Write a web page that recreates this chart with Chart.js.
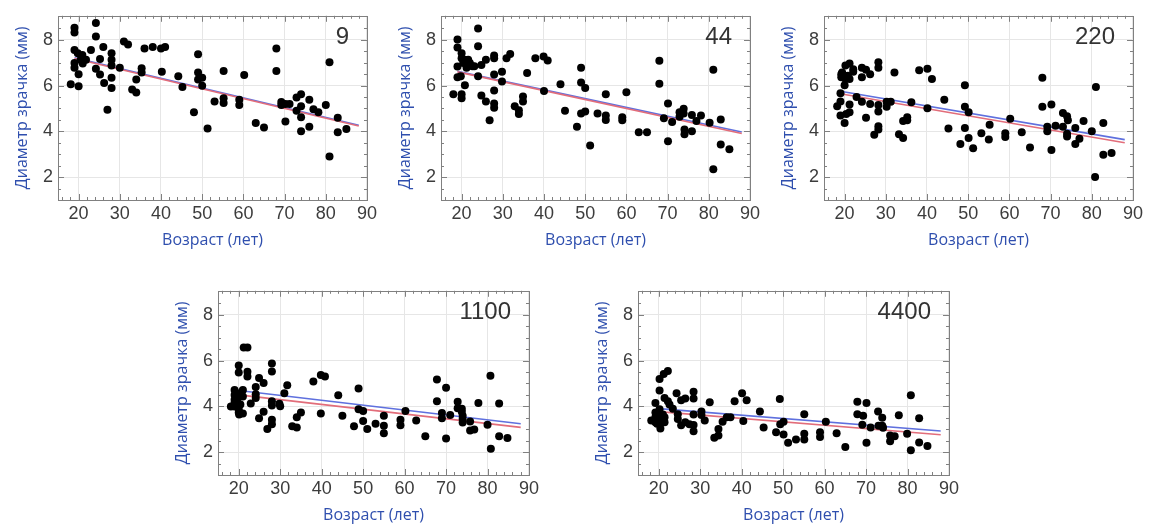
<!DOCTYPE html>
<html>
<head>
<meta charset="utf-8">
<script src="https://cdn.jsdelivr.net/npm/chart.js@4.4.1/dist/chart.umd.min.js"></script>
<style>
    html, body { margin: 0; padding: 0; background: #fff; overflow: hidden; }
    #wrap { position: relative; width: 1158px; height: 527px; }
    canvas { position: absolute; }
</style>
</head>
<body>
<div id="wrap">
    <canvas id="p9" width="380" height="252" style="left:0px;top:0px"></canvas>
    <canvas id="p44" width="380" height="252" style="left:383px;top:0px"></canvas>
    <canvas id="p220" width="380" height="252" style="left:766px;top:0px"></canvas>
    <canvas id="p1100" width="382" height="252" style="left:160px;top:275px"></canvas>
    <canvas id="p4400" width="382" height="252" style="left:580px;top:275px"></canvas>
</div>
<script>
// Axis ticks and labels
const xTicks = [20, 30, 40, 50, 60, 70, 80, 90];
const yTicks = [2, 4, 6, 8];
const xTitle = "Возраст (лет)";
const yTitle = "Диаметр зрачка (мм)";

// Panel "9"
const ages9 = [18.1,19,19,19,19,19,19.8,20,20,20.5,20.9,21,21.8,23,24.2,24.2,24.2,25.2,25.2,26,26.2,27,28,28,28,28,28,30,31,32,33,34,34,35.3,35.3,36,38,40,41,40.2,44.2,45.2,48,49,49,49,50,50,51.3,53,55.2,55.2,55.2,59,59,60.2,63,65,68,68,69.2,69.2,70.2,70.2,71.2,72.9,72.9,74,74,74,74,76,76,77,78.2,80,80.9,80.9,82.9,82.9,85];
const pupil9 = [6.06,8.53,8.32,7.55,6.99,6.78,7.41,6.5,5.97,7.13,7.34,6.97,7.13,7.55,8.74,8.14,6.74,7.16,6.48,7.69,6.11,4.94,7.41,7.13,6.88,6.34,5.9,6.78,7.93,7.8,5.83,5.7,6.27,6.76,6.57,7.62,7.69,7.62,7.69,6.6,6.41,5.94,4.83,7.37,6.57,6.27,6.34,5.99,4.13,5.31,6.64,5.45,5.24,5.38,5.15,6.46,4.36,4.17,7.62,6.64,5.28,5.15,4.43,5.2,5.2,5.48,4.9,5.62,5.1,4.62,4.01,5.38,4.2,4.97,4.83,5.15,7.02,2.9,4.59,3.96,4.1];
const fitX9 = [19, 88];
const blue9 = [7.22, 4.27];
const red9 = [7.18, 4.23];

// Panel "44"
const ages44 = [18,19,19,19,19,19.8,20,20,20,20,20.4,20.8,20.8,21.2,21.6,22,22.6,23.1,24,24,24,24.8,24.8,25.9,25.9,26.8,27.9,27.9,27.9,27.9,27.9,27.9,29.8,29.8,30.9,31.8,32.9,33.9,33.9,34.9,34.9,35.9,37.9,39.9,40.9,40,44,45.1,48,49,49,49,50,50,51.2,53,55,55,55,59,59,60,63,65,68,68,69.1,70.1,70.1,71.1,72.9,72.9,73.9,73.9,74.1,74.1,75.9,75.9,77,78.1,80.2,81.1,81.1,82.9,82.9,85];
const pupil44 = [5.62,8.01,7.66,6.83,6.36,6.41,7.41,7.2,5.62,5.45,6.99,7.13,6.01,6.78,7.13,6.99,6.85,6.85,8.5,7.72,6.41,6.9,5.57,7.13,5.31,4.48,7.31,7.2,6.48,5.78,5.22,5.03,6.6,6.18,7.2,7.38,5.1,4.92,4.76,5.52,5.31,6.55,7.2,7.27,7.1,5.76,6.06,4.9,4.2,6.78,6.13,4.78,5.9,4.87,3.38,4.78,5.62,4.69,4.5,4.62,4.48,5.71,3.96,3.96,7.09,6.08,4.57,5.22,3.57,4.41,4.83,4.64,4.99,4.78,4.08,3.87,4.71,4.01,4.45,4.69,4.38,6.69,2.34,4.52,3.43,3.22];
const fitX44 = [19, 88];
const blue44 = [6.62, 3.97];
const red44 = [6.60, 3.91];

// Panel "220"
const ages220 = [18.2,19,19,19,19.2,19.2,19.4,20,20,20.2,20.2,20.4,20.8,21.2,21.2,21.2,21.2,22.1,22.1,22.9,24.2,24.2,24.2,25.2,25.2,26.2,26.2,27.2,28.2,28.2,28.2,28.2,28.2,28.2,30.2,30.2,31.2,32.1,33.2,34.2,34.2,35.2,35.2,36.2,38.1,40.1,40.1,41.2,44.2,45.2,48.1,49.2,49.2,49.2,50.1,50.1,51.2,53.2,55,55.2,59,59,60.2,63,65,68,68,69.2,69.2,70.2,70.2,71.2,73,73,74,74,74,74.2,76,76,77,78,80,81,80.8,82.8,82.8,84.8];
const pupil220 = [5.1,5.31,4.69,5.66,6.5,6.36,6.57,6.01,4.36,6.88,6.29,4.76,6.43,6.97,6.29,5.17,4.83,6.71,6.6,5.5,6.78,6.36,5.29,6.69,4.59,6.5,5.2,3.85,7.02,6.78,5.15,4.87,4.22,4.08,5.29,5.08,5.29,6.57,3.87,3.71,4.45,4.62,4.48,5.27,6.67,6.74,5.01,6.29,5.38,4.13,3.45,6.01,5.08,4.15,4.83,3.71,3.26,3.92,3.64,4.29,3.92,3.75,4.55,3.96,3.29,6.34,5.08,4.01,4.2,5.17,3.19,4.24,4.8,4.2,4.66,3.89,3.78,4.48,4.15,3.45,3.68,4.45,4.01,5.94,2,4.36,2.98,3.05];
const fitX220 = [19.7, 88];
const blue220 = [5.73, 3.64];
const red220 = [5.62, 3.50];

// Panel "1100"
const ages1100 = [18.1,19,19,19,19,19,19.6,19.8,20,20,20,20,20.1,20.4,21,21,21,21.2,22.1,22.1,22.1,22.9,24.1,24.1,24.1,24.9,24.9,26,26,26.9,28,28,28,28,28,28,29.8,30,31,31.7,32.9,34,34,35,38,39.8,40.8,39.8,44,45,47.8,48.9,48.9,50,50,51,53,55,55,55,59,59,60.2,62.8,65,67.8,67.8,69,69,70,70,71,72.8,72.8,73.8,73.8,74,74,74,75.8,75.8,76.8,77.8,80,80.7,80.8,82.8,82.8,84.8];
const pupil1100 = [3.99,4.71,4.5,4.29,4.15,3.99,4.57,4.36,5.79,5.48,3.87,3.73,3.64,4.08,4.71,4.43,3.69,6.57,6.57,5.51,5.31,4.13,4.85,4.53,4.36,5.24,3.48,5.02,3.76,3.01,5.87,5.52,4.22,4.04,3.41,3.22,4.11,4.01,4.57,4.92,3.13,3.08,3.52,3.73,5.09,5.37,5.3,3.69,4.48,3.59,3.13,4.78,3.87,3.8,3.36,3.01,3.24,3.59,3.15,2.83,3.41,3.17,3.8,3.38,2.69,5.17,4.22,3.71,3.48,4.81,2.59,3.62,4.2,3.92,3.9,3.76,3.59,3.45,3.29,3.34,2.94,2.99,4.15,3.2,5.34,2.15,4.13,2.69,2.62];
const fitX1100 = [20, 88];
const blue1100 = [4.69, 3.24];
const red1100 = [4.50, 3.08];

// Panel "4400"
const ages4400 = [18.2,19.2,19.2,19.2,19.2,19.6,20.2,20.2,20.2,20.2,20.4,20.4,21,21,21.4,21.4,21.2,21.4,22.2,22.2,22.6,23.4,24.3,24.6,24.6,25.4,25.4,26.4,26.4,27.4,28.4,28.4,28.4,28.4,28.4,30.3,30.3,31.1,32.3,33.4,34.4,34.4,35.4,36.4,37.3,38.3,40.1,40.4,41.2,44.4,45.3,48.3,49.2,49.3,50.1,50.1,51.2,53.1,55.1,55.1,55.1,58.9,58.9,60.3,62.9,65,67.9,67.9,69.3,69.1,70.1,70.1,71.1,72.9,73,73.9,73.9,74.1,75.8,75.8,76.9,77.9,79.9,80.8,80.8,82.8,82.8,84.8];
const pupil4400 = [3.38,4.15,3.73,3.52,3.31,3.24,5.2,4.69,3.87,3.66,3.03,3.41,3.64,3.31,3.52,3.31,5.41,4.36,5.55,4.22,4.08,3.9,4.57,3.66,3.45,4.27,3.17,4.34,3.31,3.22,4.64,4.34,3.64,2.91,3.19,3.78,3.62,3.38,4.18,2.63,3.01,2.73,3.33,3.52,3.52,4.22,4.57,3.36,4.27,3.78,3.08,2.87,4.32,3.22,3.33,2.77,2.41,2.55,3.66,2.8,2.55,2.87,2.66,3.33,2.83,2.22,4.2,3.66,3.59,3.2,4.15,2.41,3.08,3.78,3.15,3.5,3.15,3.06,2.73,2.48,2.69,3.61,2.8,4.48,2.08,3.48,2.42,2.27];
const fitX4400 = [20, 88];
const blue4400 = [3.90, 2.92];
const red4400 = [3.77, 2.76];


// 1. Frame with inward ticks + panel number
const framePlugin = {
    id: 'frame',
    afterDraw(chart, args, opts) {
        const {ctx, chartArea: a, scales: {x, y}} = chart;
        ctx.save();
        ctx.strokeStyle = '#808080';
        ctx.lineWidth = 1;
        ctx.beginPath();
        // minor/major ticks on x (every 2 years)
        for (let v = 16; v < 90; v += 2) {
            const px = Math.round(x.getPixelForValue(v)) + 0.5;
            const len = v % 10 === 0 ? 6 : 3;
            ctx.moveTo(px, a.bottom); ctx.lineTo(px, a.bottom - len);
            ctx.moveTo(px, a.top); ctx.lineTo(px, a.top + len);
        }
        // ticks on y (every 0.5 mm)
        for (let v = 1.5; v < 9; v += 0.5) {
            const py = Math.round(y.getPixelForValue(v)) + 0.5;
            const len = v % 2 === 0 ? 6 : 3;
            ctx.moveTo(a.left, py); ctx.lineTo(a.left + len, py);
            ctx.moveTo(a.right, py); ctx.lineTo(a.right - len, py);
        }
        ctx.stroke();
        ctx.strokeRect(Math.round(a.left) + 0.5, Math.round(a.top) + 0.5,
                       Math.round(a.right - a.left), Math.round(a.bottom - a.top));
        // panel number
        ctx.font = '24px "Liberation Sans", Arial, sans-serif';
        ctx.fillStyle = '#333333';
        ctx.textAlign = 'right';
        ctx.textBaseline = 'alphabetic';
        ctx.fillText(opts.text, a.right - 18, a.top + 28);
        ctx.restore();
    }
};

// 2. Build one panel
function makePanel(id, label, ages, pupil, fitX, blueY, redY, padTop) {
    const points = ages.map((a, i) => ({x: a, y: pupil[i]}));
    const blueLine = fitX.map((a, i) => ({x: a, y: blueY[i]}));
    const redLine = fitX.map((a, i) => ({x: a, y: redY[i]}));

    const tickFont = {family: '"Liberation Sans", Arial, sans-serif', size: 18};
    const titleFont = {family: '"Open Sans", "Noto Sans", sans-serif', size: 16};

    new Chart(document.getElementById(id), {
        type: 'scatter',
        data: {
            datasets: [{
                data: points,
                backgroundColor: '#000000',
                borderWidth: 0,
                pointRadius: 4,
                order: 0
            }, {
                data: redLine,
                showLine: true,
                borderColor: '#e26d7a',
                borderWidth: 1.6,
                pointRadius: 0,
                order: 1
            }, {
                data: blueLine,
                showLine: true,
                borderColor: '#5f70de',
                borderWidth: 1.6,
                pointRadius: 0,
                order: 2
            }]
        },
        options: {
            responsive: false,
            animation: false,
            layout: {padding: {top: padTop, right: 10, left: 0, bottom: 0}},
            plugins: {
                legend: {display: false},
                tooltip: {enabled: false},
                frame: {text: label}
            },
            scales: {
                x: {
                    type: 'linear',
                    min: 15,
                    max: 90,
                    afterBuildTicks: s => { s.ticks = xTicks.map(v => ({value: v})); },
                    afterFit: s => { s.height = 52; },
                    grid: {color: '#e6e6e6', drawTicks: false},
                    border: {display: false},
                    ticks: {color: '#3c3c3c', font: tickFont, padding: 3, maxRotation: 0, autoSkip: false},
                    title: {display: true, text: xTitle, color: '#2f4fae', font: titleFont, padding: {top: 0, bottom: 2}}
                },
                y: {
                    type: 'linear',
                    min: 1,
                    max: 9.05,
                    afterBuildTicks: s => { s.ticks = yTicks.map(v => ({value: v})); },
                    afterFit: s => { s.width = 58; },
                    grid: {color: '#e6e6e6', drawTicks: false},
                    border: {display: false},
                    ticks: {color: '#3c3c3c', font: tickFont, padding: 5},
                    title: {display: true, text: yTitle, color: '#2f4fae', font: titleFont, padding: {top: 13, bottom: 0}}
                }
            }
        },
        plugins: [framePlugin]
    });
}

makePanel('p9', '9', ages9, pupil9, fitX9, blue9, red9, 7);
makePanel('p44', '44', ages44, pupil44, fitX44, blue44, red44, 7);
makePanel('p220', '220', ages220, pupil220, fitX220, blue220, red220, 7);
makePanel('p1100', '1100', ages1100, pupil1100, fitX1100, blue1100, red1100, 8);
makePanel('p4400', '4400', ages4400, pupil4400, fitX4400, blue4400, red4400, 8);
</script>
</body>
</html>
